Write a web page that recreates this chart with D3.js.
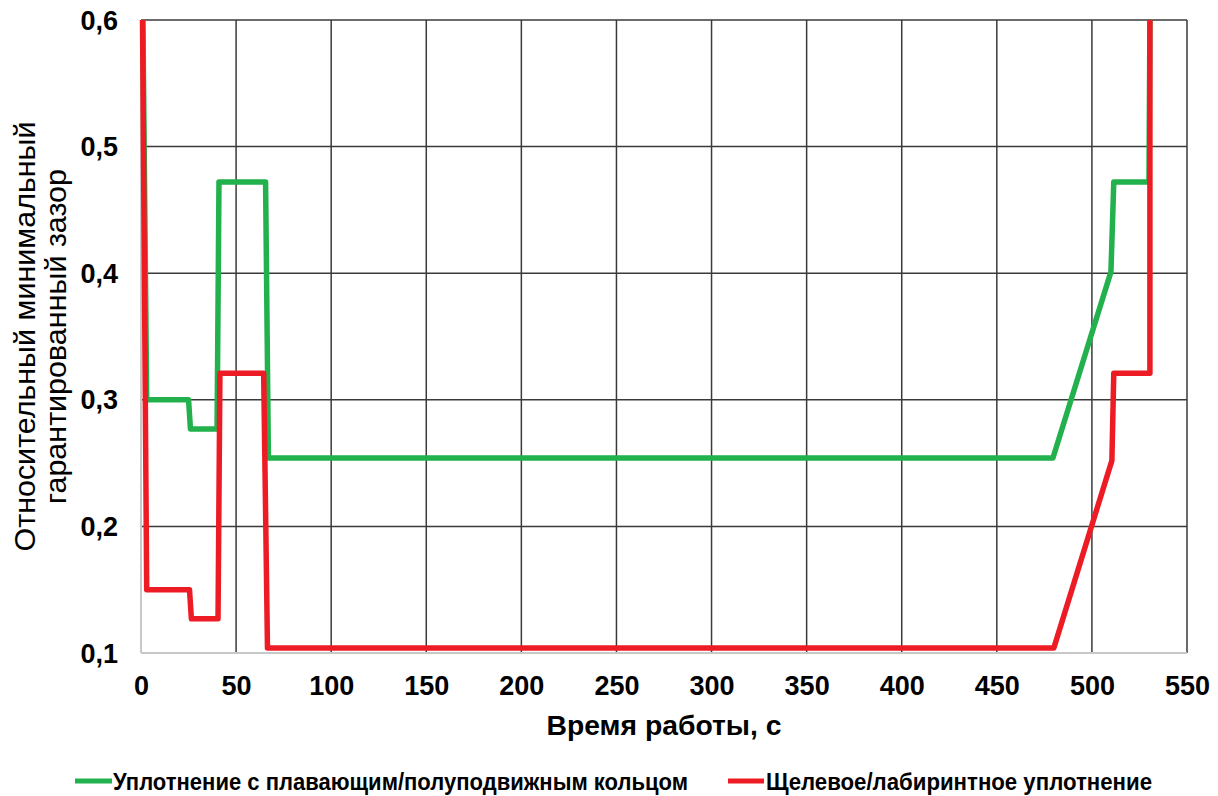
<!DOCTYPE html>
<html><head><meta charset="utf-8">
<script src="https://cdn.jsdelivr.net/npm/d3@7"></script>
<style>
html,body{margin:0;padding:0;background:#fff;}
svg{display:block;font-family:"Liberation Sans",Arial,sans-serif;}
</style></head>
<body>
<svg id="chart" width="1218" height="796"></svg>
<script>
// ---- data ----
const xTicks = [0, 50, 100, 150, 200, 250, 300, 350, 400, 450, 500, 550];
const yTicks = [0.1, 0.2, 0.3, 0.4, 0.5, 0.6];
const yTickLabels = ["0,1", "0,2", "0,3", "0,4", "0,5", "0,6"];

const greenTime  = [1, 3, 25, 26, 40, 41, 65.5, 67, 479.5, 510, 511.5, 530, 530.5];
const greenValue = [0.6, 0.3, 0.3, 0.277, 0.277, 0.472, 0.472, 0.254, 0.254, 0.401, 0.472, 0.472, 0.6];

const redTime  = [0.8, 3, 25.5, 26.5, 40.5, 41.5, 64.5, 66.5, 480, 510.5, 511.5, 530.5, 530.5];
const redValue = [0.6, 0.15, 0.15, 0.127, 0.127, 0.321, 0.321, 0.104, 0.104, 0.252, 0.321, 0.321, 0.6];

const seriesNames = ["Уплотнение с плавающим/полуподвижным кольцом", "Щелевое/лабиринтное уплотнение"];
const seriesColors = ["#22b14c", "#ed1c24"];
const xTitle = "Время работы, с";
const yTitleLines = ["Относительный минимальный", "гарантированный зазор"];

// ---- layout ----
const svg = d3.select("#chart");
const L = 141, R = 1187, T = 20, B = 653;
const x = d3.scaleLinear().domain([0, 550]).range([L, R]);
const y = d3.scaleLinear().domain([0.1, 0.6]).range([B, T]);

// gridlines
const grid = svg.append("g");
grid.selectAll("line.v").data(xTicks.filter(d => d > 0)).join("line")
  .attr("x1", d => x(d)).attr("x2", d => x(d)).attr("y1", T).attr("y2", B)
  .attr("stroke", "#3a3a3a").attr("stroke-width", 1.5);
grid.selectAll("line.h").data(yTicks.filter(d => d > 0.1)).join("line")
  .attr("x1", L).attr("x2", R).attr("y1", d => y(d)).attr("y2", d => y(d))
  .attr("stroke", "#3a3a3a").attr("stroke-width", 1.5);

// axes lines (light gray)
svg.append("line").attr("x1", L).attr("x2", L).attr("y1", T).attr("y2", B)
  .attr("stroke", "#c8c8c8").attr("stroke-width", 2);
svg.append("line").attr("x1", L).attr("x2", R).attr("y1", B).attr("y2", B)
  .attr("stroke", "#c8c8c8").attr("stroke-width", 2);

// axis tick labels via d3 axes
const xAxis = d3.axisBottom(x).tickValues(xTicks).tickSize(0).tickPadding(0).tickFormat(d3.format("d"));
const gx = svg.append("g").attr("transform", `translate(0,${B})`).call(xAxis);
gx.select(".domain").remove();
gx.selectAll("text").attr("dy", null).attr("y", 42)
  .attr("font-size", 27).attr("font-weight", "bold").attr("fill", "#000")
  .attr("font-family", "Liberation Sans, Arial, sans-serif");

const yAxis = d3.axisLeft(y).tickValues(yTicks).tickSize(0).tickPadding(0)
  .tickFormat((d, i) => yTickLabels[i]);
const gy = svg.append("g").attr("transform", `translate(${L},0)`).call(yAxis);
gy.select(".domain").remove();
gy.selectAll("text").attr("x", -23).attr("dy", "0.34em")
  .attr("font-size", 27).attr("font-weight", "bold").attr("fill", "#000")
  .attr("font-family", "Liberation Sans, Arial, sans-serif");

// clip
svg.append("clipPath").attr("id", "clip").append("rect")
  .attr("x", L - 2).attr("y", T).attr("width", R - L + 4).attr("height", B - T + 2);

const line = d3.line().x(d => x(d[0])).y(d => y(d[1]));
const series = [
  d3.zip(greenTime, greenValue),
  d3.zip(redTime, redValue)
];
svg.append("g").attr("clip-path", "url(#clip)")
  .selectAll("path").data(series).join("path")
  .attr("d", line).attr("fill", "none")
  .attr("stroke", (d, i) => seriesColors[i])
  .attr("stroke-width", 5.5)
  .attr("stroke-linejoin", "round");

// x title
svg.append("text").attr("x", (L + R) / 2).attr("y", 735)
  .attr("text-anchor", "middle").attr("font-size", 28).attr("font-weight", "bold")
  .attr("textLength", 235).attr("lengthAdjust", "spacingAndGlyphs")
  .text(xTitle);

// y title
const yt = svg.append("g").attr("transform", `translate(0,${(T + B) / 2}) rotate(-90)`);
const yLens = [430, 335];
const yBase = [35, 66];
yTitleLines.forEach((t, i) => {
  yt.append("text").attr("x", 0).attr("y", yBase[i])
    .attr("text-anchor", "middle").attr("font-size", 29)
    .attr("textLength", yLens[i]).attr("lengthAdjust", "spacingAndGlyphs")
    .text(t);
});

// legend
const legendItems = [
  {x1: 75, x2: 112, tx: 113, len: 575},
  {x1: 728, x2: 764, tx: 766, len: 386}
];
legendItems.forEach((it, i) => {
  svg.append("line").attr("x1", it.x1).attr("x2", it.x2).attr("y1", 781).attr("y2", 781)
    .attr("stroke", seriesColors[i]).attr("stroke-width", 5);
  svg.append("text").attr("x", it.tx).attr("y", 790)
    .attr("font-size", 23).attr("font-weight", "bold")
    .attr("textLength", it.len).attr("lengthAdjust", "spacingAndGlyphs")
    .text(seriesNames[i]);
});
</script>
</body></html>
